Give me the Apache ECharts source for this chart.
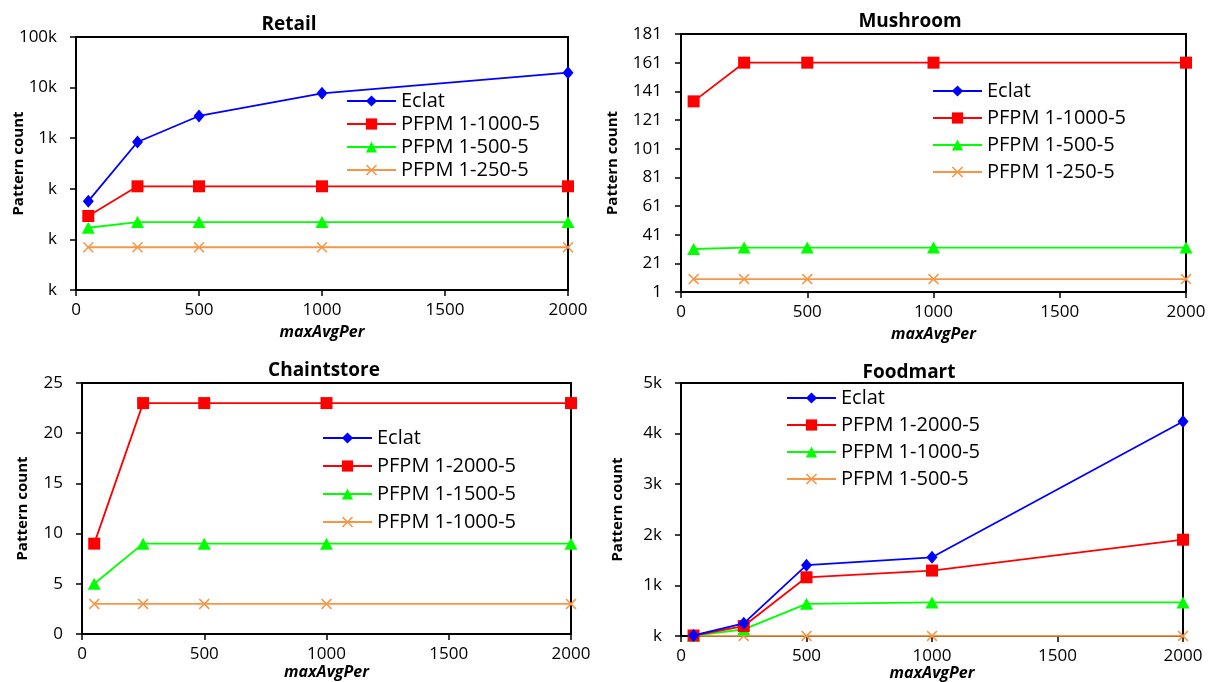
<!DOCTYPE html>
<html>
<head>
<meta charset="utf-8">
<script src="https://cdn.jsdelivr.net/npm/echarts@6/dist/echarts.min.js"></script>
<style>
html,body{margin:0;padding:0;background:#fff;}
#chart{width:1215px;height:682px;}
</style>
</head>
<body>
<div id="chart"></div>
<script>
// x values shared by all four panels
var xValues = [50, 250, 500, 1000, 2000];
var xTicks = [0, 500, 1000, 1500, 2000];

// Retail (log scale)
var retailEclat = [57, 841, 2750, 7710, 19700];
var retailPfpm1000 = [29, 112, 112, 112, 112];
var retailPfpm500 = [17, 22, 22, 22, 22];
var retailPfpm250 = [7, 7, 7, 7, 7];

// Mushroom
var mushroomEclat = [];
var mushroomPfpm1000 = [134, 161, 161, 161, 161];
var mushroomPfpm500 = [31, 32, 32, 32, 32];
var mushroomPfpm250 = [10, 10, 10, 10, 10];

// Chaintstore
var chainEclat = [];
var chainPfpm2000 = [9, 23, 23, 23, 23];
var chainPfpm1500 = [5, 9, 9, 9, 9];
var chainPfpm1000 = [3, 3, 3, 3, 3];

// Foodmart
var foodEclat = [10, 250, 1400, 1555, 4240];
var foodPfpm2000 = [10, 197, 1160, 1293, 1903];
var foodPfpm1000 = [5, 131, 636, 663, 663];
var foodPfpm500 = [2, 2, 2, 2, 2];

var panelTitles = ['Retail', 'Mushroom', 'Chaintstore', 'Foodmart'];
var legendNames = [
    ['Eclat', 'PFPM 1-1000-5', 'PFPM 1-500-5', 'PFPM 1-250-5'],
    ['Eclat', 'PFPM 1-1000-5', 'PFPM 1-500-5', 'PFPM 1-250-5'],
    ['Eclat', 'PFPM 1-2000-5', 'PFPM 1-1500-5', 'PFPM 1-1000-5'],
    ['Eclat', 'PFPM 1-2000-5', 'PFPM 1-1000-5', 'PFPM 1-500-5']
];
var panelData = [
    [retailEclat, retailPfpm1000, retailPfpm500, retailPfpm250],
    [mushroomEclat, mushroomPfpm1000, mushroomPfpm500, mushroomPfpm250],
    [chainEclat, chainPfpm2000, chainPfpm1500, chainPfpm1000],
    [foodEclat, foodPfpm2000, foodPfpm1000, foodPfpm500]
];

var font = '"Open Sans", "Noto Sans", sans-serif';
var colors = ['#0000FF', '#FF0000', '#00FF00', '#F79646'];
var crossPath = 'path://M0,1L1,0L5,4L9,0L10,1L6,5L10,9L9,10L5,6L1,10L0,9L4,5Z';
var symbols = ['diamond', 'rect', 'triangle', crossPath];
var symbolSizes = [[11, 13], 12, [13, 12], 11];

// plot boxes: left, top, width, height
var grids = [
    {left: 76, top: 37, width: 492, height: 253},
    {left: 681, top: 34, width: 505, height: 258},
    {left: 82, top: 383, width: 489, height: 251},
    {left: 681, top: 383, width: 502, height: 254}
];
var titlePos = [[284, 10], [905, 7], [319, 356], [904, 358]];
var legendPos = [[346, 91, 3], [932, 81, 7], [322, 428, 8], [786, 388, 7]];
var yNameGap = [50, 61, 52, 56];
var xNameGap = [34, 34, 30, 29];

function kFormat(v) {
    v = Math.round(v);
    if (v >= 1000) return (v / 1000) + 'k';
    return 'k';
}

var yAxes = [
    {type: 'log', logBase: 10, min: 1, max: 100000, axisLabel: {formatter: kFormat}},
    {type: 'value', min: 1, max: 181, interval: 20},
    {type: 'value', min: 0, max: 25, interval: 5},
    {type: 'value', min: 0, max: 5000, interval: 1000, axisLabel: {formatter: kFormat}}
];

var option = {
    backgroundColor: '#fff',
    animation: false,
    title: [],
    legend: [],
    grid: [],
    xAxis: [],
    yAxis: [],
    series: []
};

for (var i = 0; i < 4; i++) {
    var g = grids[i];
    option.grid.push({
        left: g.left, top: g.top, width: g.width, height: g.height,
        show: true, borderColor: '#000', borderWidth: 2, backgroundColor: 'transparent'
    });
    option.title.push({
        text: panelTitles[i],
        left: titlePos[i][0], top: titlePos[i][1],
        textAlign: 'center',
        textStyle: {fontFamily: font, fontSize: 19, fontWeight: 'bold', color: '#000'}
    });
    option.xAxis.push({
        type: 'value', gridIndex: i, min: xTicks[0], max: xTicks[xTicks.length - 1], interval: 500,
        name: 'maxAvgPer', nameLocation: 'middle', nameGap: xNameGap[i], nameMoveOverlap: false,
        nameTextStyle: {fontFamily: font, fontSize: 16, fontWeight: 'bold', fontStyle: 'italic', color: '#000'},
        axisLine: {show: true, onZero: false, lineStyle: {color: '#000', width: 2}},
        axisTick: {show: true, inside: false, length: 6, lineStyle: {color: '#000', width: 1.5}},
        axisLabel: {fontFamily: font, fontSize: 17, color: '#000', margin: 12,
            formatter: function (v) { return String(v); }},
        splitLine: {show: false}
    });
    var ya = yAxes[i];
    var label = {fontFamily: font, fontSize: 17, color: '#000', margin: 19};
    if (ya.axisLabel) label.formatter = ya.axisLabel.formatter;
    else label.formatter = function (v) { return String(v); };
    option.yAxis.push({
        type: ya.type, logBase: ya.logBase, gridIndex: i, min: ya.min, max: ya.max, interval: ya.interval,
        name: 'Pattern count', nameLocation: 'middle', nameGap: yNameGap[i], nameRotate: 90,
        nameMoveOverlap: false,
        nameTextStyle: {fontFamily: font, fontSize: 15, fontWeight: 'bold', color: '#000'},
        axisLine: {show: true, onZero: false, lineStyle: {color: '#000', width: 2}},
        axisTick: {show: true, inside: false, length: 6, lineStyle: {color: '#000', width: 1.5}},
        axisLabel: label,
        splitLine: {show: false}
    });

    var legendData = [];
    for (var s = 0; s < 4; s++) {
        var name = panelTitles[i] + '|' + legendNames[i][s];
        legendData.push(name);
        var pts = [];
        var vals = panelData[i][s];
        for (var k = 0; k < vals.length; k++) {
            pts.push([xValues[k], vals[k]]);
        }
        option.series.push({
            name: name,
            type: 'line',
            xAxisIndex: i,
            yAxisIndex: i,
            data: pts,
            symbol: symbols[s],
            symbolSize: symbolSizes[s],
            showAllSymbol: true,
            clip: false,
            z: 10 - s,
            lineStyle: {color: colors[s], width: 1.8},
            itemStyle: {color: colors[s], borderWidth: 0}
        });
    }
    option.legend.push({
        data: legendData,
        orient: 'vertical',
        left: legendPos[i][0], top: legendPos[i][1],
        padding: 0,
        itemWidth: 49, itemHeight: 14,
        itemGap: legendPos[i][2],
        selectedMode: false,
        formatter: function (n) { return n.split('|')[1]; },
        textStyle: {fontFamily: font, fontSize: 20, color: '#000', lineHeight: 20, padding: [0, 0, 0, 0]}
    });
}

var myChart = echarts.init(document.getElementById('chart'));
myChart.setOption(option);
</script>
</body>
</html>
